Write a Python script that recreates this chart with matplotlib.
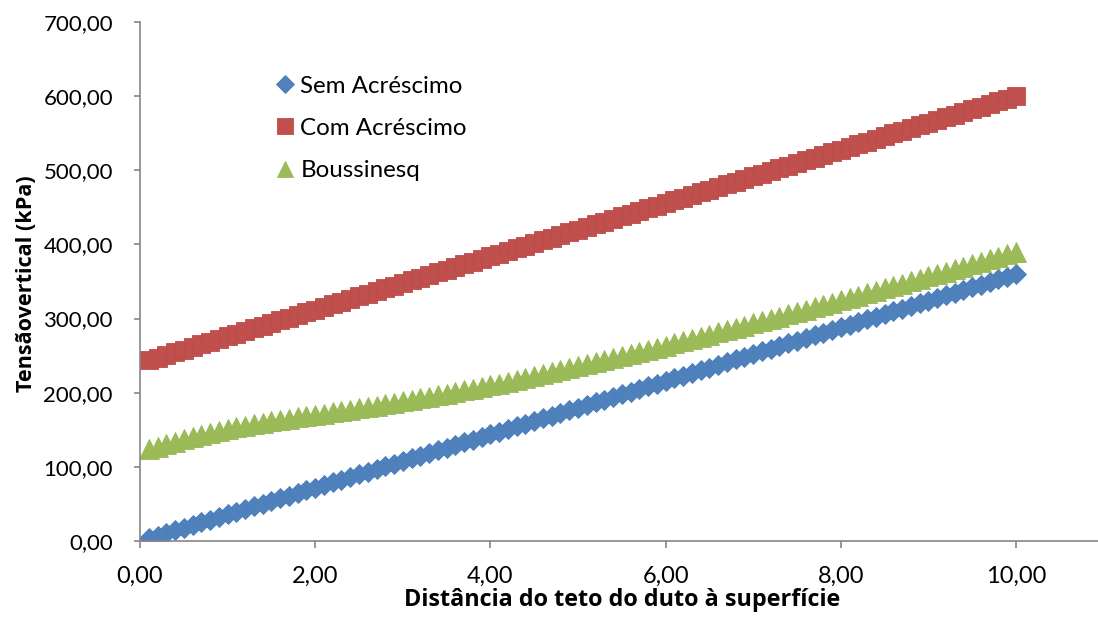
import matplotlib
matplotlib.use("Agg")
import matplotlib.pyplot as plt
from matplotlib.ticker import FuncFormatter

# Depth of the duct roof below the surface (m)
distancia = [
    0.1, 0.2, 0.3, 0.4, 0.5, 0.6, 0.7, 0.8, 0.9, 1.0,
    1.1, 1.2, 1.3, 1.4, 1.5, 1.6, 1.7, 1.8, 1.9, 2.0,
    2.1, 2.2, 2.3, 2.4, 2.5, 2.6, 2.7, 2.8, 2.9, 3.0,
    3.1, 3.2, 3.3, 3.4, 3.5, 3.6, 3.7, 3.8, 3.9, 4.0,
    4.1, 4.2, 4.3, 4.4, 4.5, 4.6, 4.7, 4.8, 4.9, 5.0,
    5.1, 5.2, 5.3, 5.4, 5.5, 5.6, 5.7, 5.8, 5.9, 6.0,
    6.1, 6.2, 6.3, 6.4, 6.5, 6.6, 6.7, 6.8, 6.9, 7.0,
    7.1, 7.2, 7.3, 7.4, 7.5, 7.6, 7.7, 7.8, 7.9, 8.0,
    8.1, 8.2, 8.3, 8.4, 8.5, 8.6, 8.7, 8.8, 8.9, 9.0,
    9.1, 9.2, 9.3, 9.4, 9.5, 9.6, 9.7, 9.8, 9.9, 10.0,
]

# Vertical stress without surcharge (kPa)
sem_acrescimo = [
    3.6, 7.2, 10.8, 14.4, 18.0, 21.6, 25.2, 28.8, 32.4, 36.0,
    39.6, 43.2, 46.8, 50.4, 54.0, 57.6, 61.2, 64.8, 68.4, 72.0,
    75.6, 79.2, 82.8, 86.4, 90.0, 93.6, 97.2, 100.8, 104.4, 108.0,
    111.6, 115.2, 118.8, 122.4, 126.0, 129.6, 133.2, 136.8, 140.4, 144.0,
    147.6, 151.2, 154.8, 158.4, 162.0, 165.6, 169.2, 172.8, 176.4, 180.0,
    183.6, 187.2, 190.8, 194.4, 198.0, 201.6, 205.2, 208.8, 212.4, 216.0,
    219.6, 223.2, 226.8, 230.4, 234.0, 237.6, 241.2, 244.8, 248.4, 252.0,
    255.6, 259.2, 262.8, 266.4, 270.0, 273.6, 277.2, 280.8, 284.4, 288.0,
    291.6, 295.2, 298.8, 302.4, 306.0, 309.6, 313.2, 316.8, 320.4, 324.0,
    327.6, 331.2, 334.8, 338.4, 342.0, 345.6, 349.2, 352.8, 356.4, 360.0,
]

# Vertical stress with the full surcharge (kPa)
com_acrescimo = [
    243.6, 247.2, 250.8, 254.4, 258.0, 261.6, 265.2, 268.8, 272.4, 276.0,
    279.6, 283.2, 286.8, 290.4, 294.0, 297.6, 301.2, 304.8, 308.4, 312.0,
    315.6, 319.2, 322.8, 326.4, 330.0, 333.6, 337.2, 340.8, 344.4, 348.0,
    351.6, 355.2, 358.8, 362.4, 366.0, 369.6, 373.2, 376.8, 380.4, 384.0,
    387.6, 391.2, 394.8, 398.4, 402.0, 405.6, 409.2, 412.8, 416.4, 420.0,
    423.6, 427.2, 430.8, 434.4, 438.0, 441.6, 445.2, 448.8, 452.4, 456.0,
    459.6, 463.2, 466.8, 470.4, 474.0, 477.6, 481.2, 484.8, 488.4, 492.0,
    495.6, 499.2, 502.8, 506.4, 510.0, 513.6, 517.2, 520.8, 524.4, 528.0,
    531.6, 535.2, 538.8, 542.4, 546.0, 549.6, 553.2, 556.8, 560.4, 564.0,
    567.6, 571.2, 574.8, 578.4, 582.0, 585.6, 589.2, 592.8, 596.4, 600.0,
]

# Vertical stress with the surcharge spread by Boussinesq (kPa)
boussinesq = [
    123.60, 127.15, 130.63, 134.01, 137.26, 140.36, 143.30, 146.07, 148.68, 151.14,
    153.44, 155.62, 157.68, 159.63, 161.51, 163.32, 165.08, 166.80, 168.51, 170.20,
    171.89, 173.59, 175.30, 177.04, 178.81, 180.61, 182.44, 184.32, 186.23, 188.18,
    190.17, 192.21, 194.29, 196.41, 198.57, 200.77, 203.01, 205.30, 207.62, 209.98,
    212.37, 214.81, 217.27, 219.77, 222.30, 224.87, 227.46, 230.08, 232.73, 235.41,
    238.12, 240.85, 243.60, 246.38, 249.18, 252.00, 254.85, 257.71, 260.60, 263.50,
    266.42, 269.36, 272.32, 275.29, 278.28, 281.28, 284.30, 287.33, 290.38, 293.44,
    296.51, 299.60, 302.70, 305.81, 308.93, 312.06, 315.20, 318.36, 321.52, 324.69,
    327.87, 331.06, 334.26, 337.47, 340.69, 343.91, 347.14, 350.38, 353.63, 356.88,
    360.14, 363.41, 366.69, 369.97, 373.25, 376.55, 379.85, 383.15, 386.46, 389.77,
]

series_labels = ["Sem Acréscimo", "Com Acréscimo", "Boussinesq"]
x_ticks = [0, 2, 4, 6, 8, 10]
y_ticks = [0, 100, 200, 300, 400, 500, 600, 700]

plt.rcParams["font.family"] = ["Lato", "DejaVu Sans"]

fig = plt.figure(figsize=(10.98, 6.19), dpi=100)
ax = fig.add_axes([0.1275, 0.126, 0.8776, 0.8385])

axis_gray = "#868686"
ax.plot(distancia, sem_acrescimo, linestyle="none", marker="D", markersize=10.2,
        color="#4F81BD", markeredgecolor="#4A7EBB", markeredgewidth=0.6,
        label=series_labels[0])
ax.plot(distancia, com_acrescimo, linestyle="none", marker="s", markersize=13.6,
        color="#C0504D", markeredgecolor="#BE4B48", markeredgewidth=0.6,
        label=series_labels[1])
ax.plot(distancia, boussinesq, linestyle="none", marker="^", markersize=14.2,
        color="#9BBB59", markeredgecolor="#98B954", markeredgewidth=0.6,
        label=series_labels[2])

ax.set_xlim(0, 11)
ax.set_ylim(0, 700)
ax.set_xticks(x_ticks)
ax.set_yticks(y_ticks)

comma_fmt = FuncFormatter(lambda v, pos: f"{v:.2f}".replace(".", ","))
ax.xaxis.set_major_formatter(comma_fmt)
ax.yaxis.set_major_formatter(comma_fmt)

for side in ("top", "right"):
    ax.spines[side].set_visible(False)
for side in ("left", "bottom"):
    ax.spines[side].set_color(axis_gray)
    ax.spines[side].set_linewidth(1.2)

ax.tick_params(axis="x", direction="out", length=5, width=1.2, color=axis_gray,
               pad=13, labelsize=17, labelcolor="black")
ax.tick_params(axis="y", direction="out", length=4.5, width=1.2, color=axis_gray,
               pad=15, labelsize=16, labelcolor="black")

label_font = ["Open Sans", "DejaVu Sans"]
ax.set_xlabel("Distância do teto do duto à superfície", fontsize=16.8,
              fontweight="bold", family=label_font, labelpad=1)
ax.set_ylabel("Tensãovertical (kPa)", fontsize=15.6, fontweight="bold",
              family=label_font)
ax.yaxis.set_label_coords(-0.107, 0.495)

ax.legend(loc="upper left", bbox_to_anchor=(0.115, 0.934), frameon=False,
          fontsize=17.4, handletextpad=0.05, labelspacing=0.88, handlelength=1.2,
          borderpad=0.3, markerscale=0.85)

fig.savefig("out.png", dpi=100)
